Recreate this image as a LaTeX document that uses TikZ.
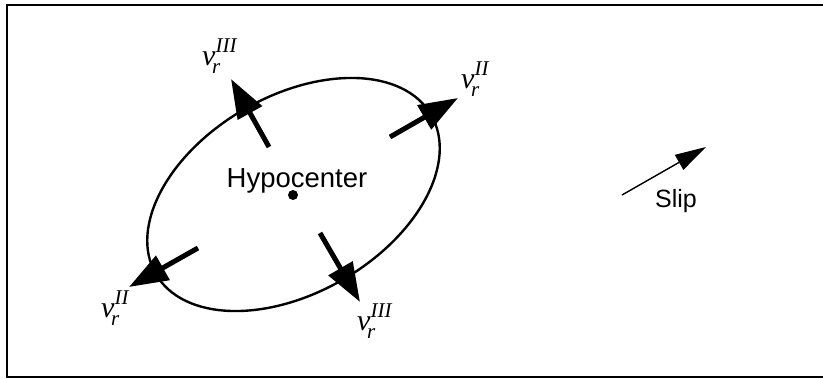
\documentclass[tikz,border=0pt]{standalone}
\usepackage{fontspec}
\setmainfont{Liberation Sans}
\newfontfamily\tms{Liberation Serif}
\usetikzlibrary{arrows.meta}
\newcommand\vlab[1]{{\tms\itshape\fontsize{30}{30}\selectfont v\rlap{\kern-3.5pt\raisebox{-8pt}{\fontsize{21}{21}\selectfont r}}\raisebox{13.5pt}{\fontsize{21}{21}\selectfont #1}}}
\tikzset{
  vel/.style={line width=5pt,-{Triangle[length=39pt,width=27pt]}},
  slipar/.style={line width=1.4pt,-{Triangle[length=31pt,width=17pt]}},
  lab/.style={inner sep=0pt,anchor=base west},
}
\begin{document}
\begin{tikzpicture}[x=1pt,y=1pt]
\useasboundingbox (0,0) rectangle (823,-379);
\draw[line width=1.5pt] (7,-5) rectangle (840,-377);
% rupture ellipse
\draw[line width=2.4pt] (293.5,-194.5) ellipse [x radius=159, y radius=98.4, rotate=30];
\fill (293,-195) circle (5);
\node[anchor=base,inner sep=0pt,font=\fontsize{27.5}{27.5}\selectfont] (hypo) at (297,-188) {Hypocenter};
% velocity arrows
\coordinate (t1) at (269,-147); \coordinate (h1) at (231,-79);
\coordinate (t2) at (390,-137); \coordinate (h2) at (458,-98);
\coordinate (t3) at (198,-248); \coordinate (h3) at (129,-287);
\coordinate (t4) at (320,-233); \coordinate (h4) at (360,-302);
\draw[vel] (t1) -- (h1);
\draw[vel] (t2) -- (h2);
\draw[vel] (t3) -- (h3);
\draw[vel] (t4) -- (h4);
\node[lab] (l1) at (202,-66) {\vlab{III}};
\node[lab] (l2) at (461,-89) {\vlab{II}};
\node[lab] (l3) at (101,-318) {\vlab{II}};
\node[lab] (l4) at (357,-331) {\vlab{III}};
% slip
\coordinate (s0) at (622,-195); \coordinate (s1) at (706,-147);
\draw[slipar] (s0) -- (s1);
\node[anchor=base,inner sep=0pt,font=\fontsize{25}{25}\selectfont] (slip) at (676,-208) {Slip};
\end{tikzpicture}
\end{document}
